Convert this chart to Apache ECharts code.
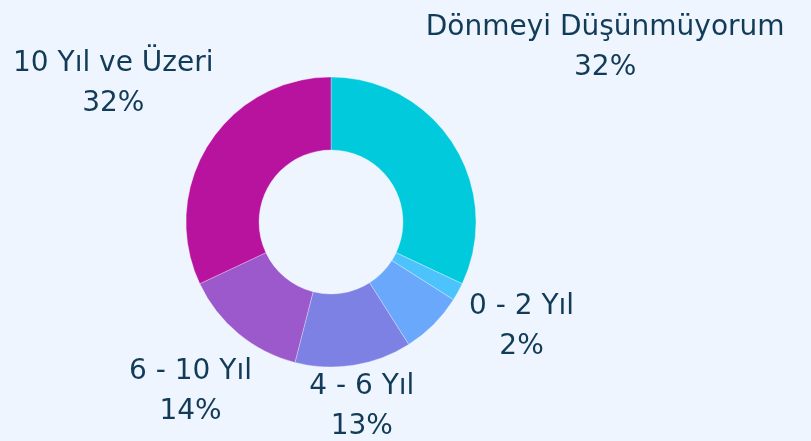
<!DOCTYPE html>
<html>
<head>
<meta charset="utf-8">
<script src="https://cdn.jsdelivr.net/npm/echarts@6/dist/echarts.min.js"></script>
<style>
  html, body { margin: 0; padding: 0; background: #eef5ff; }
  #chart { width: 811px; height: 441px; }
</style>
</head>
<body>
<div id="chart"></div>
<script>
  const categories = ['Dönmeyi Düşünmüyorum', '0 - 2 Yıl', '2 - 4 Yıl', '4 - 6 Yıl', '6 - 10 Yıl', '10 Yıl ve Üzeri']
  const values = [32, 2, 7, 13, 14, 32]
  const colors = ['#00cadb', '#4cc4fb', '#69a8fb', '#7e81e4', '#9b59cb', '#b8139f']
  const hiddenLabels = ['2 - 4 Yıl']

  const W = 811
  const H = 441
  const cx = 331
  const cy = 222
  const outerR = 145
  const innerR = 72
  const gap = 10

  const total = values.reduce((a, b) => a + b, 0)
  const midAngles = []
  let acc = 0
  values.forEach((v) => {
    midAngles.push(((acc + v / 2) / total) * Math.PI * 2)
    acc += v
  })

  const chart = echarts.init(document.getElementById('chart'))

  const option = {
    backgroundColor: '#eef5ff',
    animation: false,
    series: [
      {
        type: 'pie',
        center: [cx, cy],
        radius: [innerR, outerR],
        startAngle: 90,
        clockwise: true,
        itemStyle: {
          borderColor: 'rgba(255,255,255,0.5)',
          borderWidth: 0.6
        },
        label: {
          show: true,
          position: 'outside',
          overflow: 'none',
          edgeDistance: 0,
          formatter: (p) => `{a|${p.name}}\n{a|${p.value}%}`,
          rich: {
            a: {
              fontFamily: 'DejaVu Sans',
              fontSize: 28,
              lineHeight: 40,
              color: '#113b57',
              align: 'center'
            }
          }
        },
        labelLine: { show: false },
        labelLayout: (params) => {
          const i = params.dataIndex
          const a = midAngles[i]
          const ux = Math.sin(a)
          const uy = -Math.cos(a)
          const w = params.labelRect.width
          const h = params.labelRect.height
          const ext = Math.abs(ux) * w / 2 + Math.abs(uy) * h / 2
          let x = cx + ux * (outerR + gap + ext)
          let y = cy + uy * (outerR + gap + ext)
          x = Math.min(Math.max(x, w / 2), W - 3 - w / 2)
          y = Math.min(Math.max(y, h / 2), H - h / 2)
          return { x: x, y: y, align: 'center', verticalAlign: 'middle' }
        },
        data: categories.map((name, i) => ({
          name: name,
          value: values[i],
          itemStyle: { color: colors[i] },
          label: { show: !hiddenLabels.includes(name) }
        }))
      }
    ]
  }

  chart.setOption(option)
</script>
</body>
</html>
